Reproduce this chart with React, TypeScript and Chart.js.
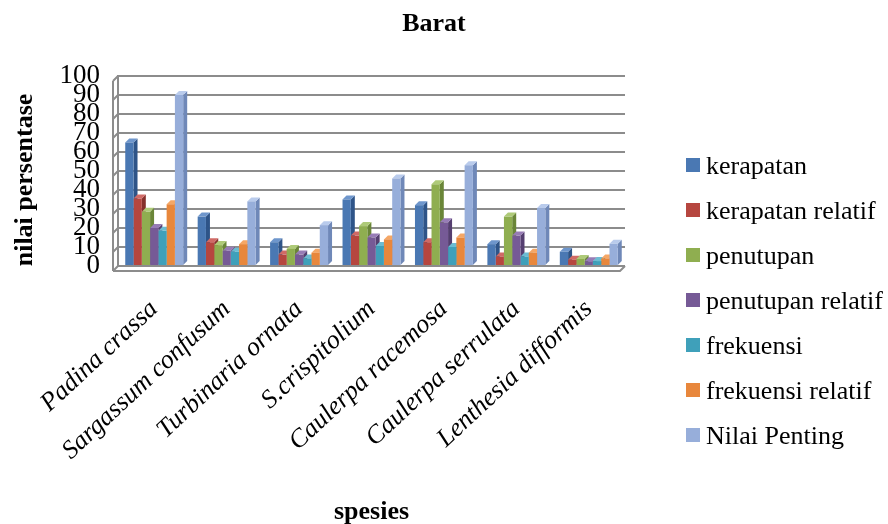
import React, { useEffect, useRef } from "react";
import { Chart, registerables } from "chart.js";

Chart.register(...registerables);

const categories = [
  "Padina crassa",
  "Sargassum confusum",
  "Turbinaria ornata",
  "S.crispitolium",
  "Caulerpa racemosa",
  "Caulerpa serrulata",
  "Lenthesia difformis",
];

const seriesNames = [
  "kerapatan",
  "kerapatan relatif",
  "penutupan",
  "penutupan relatif",
  "frekuensi",
  "frekuensi relatif",
  "Nilai Penting",
];

const kerapatan = [65, 26, 12.5, 35, 32, 11.5, 7.5];
const kerapatanRelatif = [35.5, 12.5, 6, 16, 12.5, 5, 3.3];
const penutupan = [28.5, 11, 9, 21, 43, 26, 3.7];
const penutupanRelatif = [20, 8, 6, 15, 23, 16, 2.5];
const frekuensi = [18.5, 7.5, 4, 10.5, 10, 5, 2.6];
const frekuensiRelatif = [32.5, 11.5, 7, 14, 15, 7, 4];
const nilaiPenting = [90, 34, 21.5, 46, 53, 30.5, 11.7];

const yTicks = [0, 10, 20, 30, 40, 50, 60, 70, 80, 90, 100];

const chartTitle = "Barat";
const yTitle = "nilai persentase";
const xTitle = "spesies";

const seriesValues = [
  kerapatan,
  kerapatanRelatif,
  penutupan,
  penutupanRelatif,
  frekuensi,
  frekuensiRelatif,
  nilaiPenting,
];

const frontColors = ["#4A78B3", "#B6463F", "#8FAE50", "#765A96", "#3FA0BA", "#E8873C", "#97AEDA"];
const sideColors = ["#2E5488", "#86302C", "#6A8638", "#553F70", "#2B7A8E", "#B86222", "#6F88B8"];
const topColors = ["#6E96CC", "#D06A66", "#AECA78", "#977CB6", "#6CBCD2", "#F5A766", "#B9CBEC"];

const SERIF = '"Liberation Serif", "Times New Roman", serif';
const GRID = "#8C8C8C";
const DEPTH = 4;
const WALL = 5;

const textPlugin = {
  id: "customTexts",
  afterDraw(chart: any) {
    const ctx = chart.ctx;
    ctx.save();
    ctx.fillStyle = "#000";
    ctx.font = `bold 26px ${SERIF}`;
    ctx.textAlign = "center";
    ctx.textBaseline = "alphabetic";
    ctx.fillText(chartTitle, 434, 31);

    ctx.translate(25, 180);
    ctx.rotate(-Math.PI / 2);
    ctx.font = `bold 26px ${SERIF}`;
    ctx.textAlign = "center";
    ctx.textBaseline = "middle";
    ctx.fillText(yTitle, 0, 0);
    ctx.restore();
  },
};

const legendPlugin = {
  id: "customLegend",
  afterDraw(chart: any) {
    const ctx = chart.ctx;
    ctx.save();
    chart.data.datasets.forEach((ds: any, i: number) => {
      const cy = 165 + i * 45;
      ctx.fillStyle = ds.backgroundColor;
      ctx.fillRect(686, cy - 7, 14, 14);
      ctx.fillStyle = "#000";
      ctx.font = `26px ${SERIF}`;
      ctx.textAlign = "left";
      ctx.textBaseline = "middle";
      ctx.fillText(ds.label, 706, cy + 2);
    });
    ctx.restore();
  },
};

const wallPlugin = {
  id: "walls3d",
  beforeDatasetsDraw(chart: any) {
    const ctx = chart.ctx;
    const { left, right, top, bottom } = chart.chartArea;
    const y = chart.scales.y;
    ctx.save();
    ctx.strokeStyle = GRID;
    ctx.lineWidth = 2;
    ctx.beginPath();
    yTicks.forEach((v) => {
      const py = y.getPixelForValue(v);
      ctx.moveTo(left - WALL, py + WALL);
      ctx.lineTo(left, py);
    });
    ctx.moveTo(left - WALL, top + WALL);
    ctx.lineTo(left - WALL, bottom + WALL);
    ctx.moveTo(left - WALL, bottom + WALL);
    ctx.lineTo(right - WALL, bottom + WALL);
    ctx.lineTo(right, bottom);
    ctx.stroke();
    ctx.restore();
  },
};

const bar3dPlugin = {
  id: "bar3d",
  beforeDatasetsDraw(chart: any) {
    const ctx = chart.ctx;
    ctx.save();
    const n = chart.data.labels.length;
    for (let c = 0; c < n; c++) {
      chart.data.datasets.forEach((ds: any, di: number) => {
        const meta = chart.getDatasetMeta(di);
        const el: any = meta.data[c];
        if (!el) return;
        const w = el.width;
        const xl = el.x - w / 2;
        const xr = el.x + w / 2;
        const yt = el.y;
        const yb = el.base;
        ctx.fillStyle = sideColors[di];
        ctx.beginPath();
        ctx.moveTo(xr, yt);
        ctx.lineTo(xr + DEPTH, yt - DEPTH);
        ctx.lineTo(xr + DEPTH, yb - DEPTH);
        ctx.lineTo(xr, yb);
        ctx.closePath();
        ctx.fill();
        ctx.fillStyle = topColors[di];
        ctx.beginPath();
        ctx.moveTo(xl, yt);
        ctx.lineTo(xl + DEPTH, yt - DEPTH);
        ctx.lineTo(xr + DEPTH, yt - DEPTH);
        ctx.lineTo(xr, yt);
        ctx.closePath();
        ctx.fill();
      });
    }
    ctx.restore();
  },
};

export default function App() {
  const canvasRef = useRef<HTMLCanvasElement | null>(null);

  useEffect(() => {
    const canvas = canvasRef.current;
    if (!canvas) return;
    const chart = new Chart(canvas, {
      type: "bar",
      data: {
        labels: categories,
        datasets: seriesNames.map((name, i) => ({
          label: name,
          data: seriesValues[i],
          backgroundColor: frontColors[i],
          borderWidth: 0,
          categoryPercentage: 0.8,
          barPercentage: 1.0,
        })),
      },
      options: {
        responsive: true,
        maintainAspectRatio: false,
        animation: false,
        devicePixelRatio: 1,
        layout: { padding: { left: 0, right: 263, top: 76, bottom: 0 } },
        plugins: {
          legend: { display: false },
          title: { display: false },
          tooltip: { enabled: false },
        },
        scales: {
          x: {
            grid: { display: false, drawTicks: false },
            border: { display: false },
            ticks: {
              autoSkip: false,
              maxRotation: 43,
              minRotation: 43,
              padding: 28,
              color: "#000",
              font: { family: SERIF, size: 26, style: "italic" },
            },
            title: {
              display: true,
              text: xTitle,
              color: "#000",
              font: { family: SERIF, size: 26, weight: "bold" },
              padding: { top: 0, bottom: -4 },
            },
            afterFit(scale: any) {
              scale.height = 258;
            },
          },
          y: {
            min: 0,
            max: 100,
            afterBuildTicks(scale: any) {
              scale.ticks = yTicks.map((v) => ({ value: v }));
            },
            grid: { color: GRID, lineWidth: 2, drawTicks: false },
            border: { display: true, color: GRID, width: 2 },
            ticks: {
              autoSkip: false,
              padding: 18,
              color: "#000",
              font: { family: SERIF, size: 27 },
            },
            title: { display: false },
            afterFit(scale: any) {
              scale.width = 118;
            },
          },
        },
      },
      plugins: [wallPlugin, bar3dPlugin, textPlugin, legendPlugin],
    });
    return () => chart.destroy();
  }, []);

  return (
    <div style={{ position: "fixed", left: 0, top: 0, width: 888, height: 524, background: "#fff" }}>
      <canvas ref={canvasRef} />
    </div>
  );
}
